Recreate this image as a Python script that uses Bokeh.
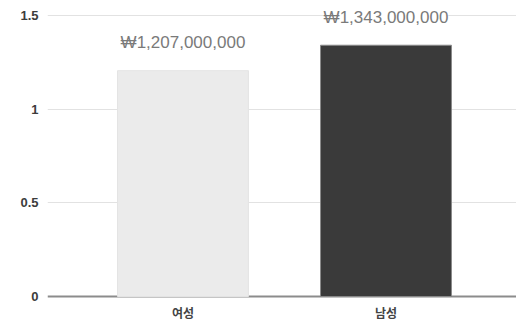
from bokeh.plotting import figure
from bokeh.models import ColumnDataSource, LabelSet, Span, FixedTicker, Range1d
from bokeh.core.properties import value
from bokeh.embed import file_html
from bokeh.resources import INLINE

# Average amount by gender, in billions of won
categories = ["여성", "남성"]
values = [1.207, 1.343]
value_labels = ["₩1,207,000,000", "₩1,343,000,000"]
bar_colors = ["#ebebeb", "#3a3a3a"]
bar_lines = ["#e4e4e4", "#8a8a8a"]
y_ticks = [0, 0.5, 1, 1.5]

positions = [i + 0.5 for i in range(len(categories))]

source = ColumnDataSource(dict(
    x=positions, top=values, label=value_labels,
    fill=bar_colors, line=bar_lines,
))

p = figure(
    width=516, height=323,
    x_range=Range1d(-0.1675, 2.143),
    y_range=Range1d(-0.0106, 1.582),
    output_backend="svg", toolbar_location=None,
    min_border_left=47, min_border_right=0,
    min_border_top=0, min_border_bottom=22,
)
p.outline_line_color = None
p.background_fill_color = "white"
p.border_fill_color = "white"

# light horizontal gridlines, darker baseline under the bars
p.ygrid.ticker = FixedTicker(ticks=[0.5, 1, 1.5])
p.ygrid.grid_line_color = "#e2e2e2"
p.ygrid.grid_line_width = 1
p.xgrid.grid_line_color = None
p.add_layout(Span(location=0, dimension="width", line_color="#8c8c8c",
                  line_width=2, level="underlay"))

p.vbar(x="x", top="top", bottom=0, width=0.645, source=source,
       fill_color="fill", line_color="line", line_width=1)

labels = LabelSet(
    x="x", y="top", text="label", source=source,
    text_align="center", text_baseline="middle", y_offset=28,
    text_font=value("Liberation Sans"), text_font_size=value("17px"),
    text_color=value("#7a7a7a"),
    background_fill_color=value("white"), background_fill_alpha=1.0,
)
p.add_layout(labels)

# y axis: labels only
p.yaxis.ticker = FixedTicker(ticks=y_ticks)
p.yaxis.major_label_overrides = {0: "0", 0.5: "0.5", 1: "1", 1.5: "1.5"}
p.yaxis.axis_line_color = None
p.yaxis.major_tick_line_color = None
p.yaxis.minor_tick_line_color = None
p.yaxis.major_tick_out = 0
p.yaxis.major_label_standoff = 9
p.yaxis.major_label_text_font = "Liberation Sans"
p.yaxis.major_label_text_font_size = "13px"
p.yaxis.major_label_text_font_style = "bold"
p.yaxis.major_label_text_color = "#3c3c3c"

# x axis: category names under each bar
p.xaxis.ticker = FixedTicker(ticks=positions)
p.xaxis.major_label_overrides = {pos: c for pos, c in zip(positions, categories)}
p.xaxis.axis_line_color = None
p.xaxis.major_tick_line_color = None
p.xaxis.minor_tick_line_color = None
p.xaxis.major_tick_out = 0
p.xaxis.major_label_standoff = 5
p.xaxis.major_label_text_font = "Noto Sans CJK KR"
p.xaxis.major_label_text_font_size = "12px"
p.xaxis.major_label_text_font_style = "bold"
p.xaxis.major_label_text_color = "#444444"

open("out.html", "w").write(file_html(p, INLINE))
